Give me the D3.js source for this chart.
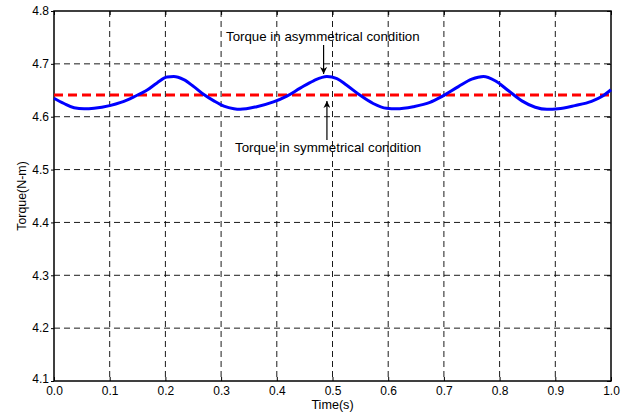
<!DOCTYPE html>
<html lang="en"><head>
<meta charset="utf-8">
<title>Torque</title>
<script src="https://cdn.jsdelivr.net/npm/d3@7"></script>
<style>
body { margin: 0; background: #fff; }
text { font-family: "Liberation Sans", Arial, sans-serif; }
</style>
</head>
<body>
<script type="text/javascript">

var width = 634;
var height = 416;

// values
var timeVals = [0.000, 0.018, 0.036, 0.054, 0.072, 0.100, 0.120, 0.144, 0.168, 0.185, 0.203, 0.215,
    0.233, 0.251, 0.269, 0.287, 0.305, 0.323, 0.334, 0.364, 0.394, 0.418, 0.442, 0.466, 0.490,
    0.508, 0.525, 0.549, 0.573, 0.597, 0.615, 0.645, 0.675, 0.696, 0.726, 0.750, 0.771, 0.792,
    0.816, 0.840, 0.864, 0.885, 0.905, 0.935, 0.965, 0.985, 1.000];
var torqueAsym = [4.635, 4.625, 4.617, 4.615, 4.616, 4.621, 4.627, 4.638, 4.651, 4.664, 4.675, 4.676,
    4.670, 4.657, 4.642, 4.630, 4.620, 4.615, 4.614, 4.619, 4.628, 4.639, 4.654, 4.668, 4.676,
    4.672, 4.660, 4.641, 4.625, 4.616, 4.615, 4.619, 4.627, 4.638, 4.657, 4.671, 4.676, 4.668,
    4.649, 4.630, 4.618, 4.614, 4.615, 4.621, 4.629, 4.639, 4.651];
var torqueSym = 4.641;
var xTicks = [0, 0.1, 0.2, 0.3, 0.4, 0.5, 0.6, 0.7, 0.8, 0.9, 1.0];
var yTicks = [4.1, 4.2, 4.3, 4.4, 4.5, 4.6, 4.7, 4.8];

var margin = {left: 54, top: 11, right: 23, bottom: 35};
var pw = width - margin.left - margin.right;
var ph = height - margin.top - margin.bottom;

var svg = d3.select("body").append("svg")
            .attr("width", width)
            .attr("height", height);

var x = d3.scaleLinear().domain([0, 1]).range([0, pw]);
var y = d3.scaleLinear().domain([4.1, 4.8]).range([ph, 0]);

var g = svg.append("g")
    .attr("transform", "translate(" + margin.left + "," + margin.top + ")");

// grid
g.selectAll(".vgrid")
    .data(xTicks.slice(1, -1))
    .enter().append("line")
    .attr("x1", d => x(d)).attr("x2", d => x(d))
    .attr("y1", 0).attr("y2", ph)
    .attr("stroke", "#000").attr("stroke-width", 0.9)
    .attr("stroke-dasharray", "6,4");
g.selectAll(".hgrid")
    .data(yTicks.slice(1, -1))
    .enter().append("line")
    .attr("x1", 0).attr("x2", pw)
    .attr("y1", d => y(d)).attr("y2", d => y(d))
    .attr("stroke", "#000").attr("stroke-width", 0.9)
    .attr("stroke-dasharray", "6,4");

// axes
var xAxis = g.append("g")
    .attr("transform", "translate(0," + ph + ")")
    .call(d3.axisBottom(x).tickValues(xTicks).tickFormat(d3.format(".1f")).tickSize(-4).tickPadding(5));
var yAxis = g.append("g")
    .call(d3.axisLeft(y).tickValues(yTicks).tickFormat(d3.format(".1f")).tickSize(3).tickPadding(2));
g.append("g")
    .call(d3.axisTop(x).tickValues(xTicks).tickFormat("").tickSize(-4));
g.append("g")
    .attr("transform", "translate(" + pw + ",0)")
    .call(d3.axisRight(y).tickValues(yTicks).tickFormat("").tickSize(-4));

g.selectAll(".domain").remove();
g.selectAll(".tick text")
    .attr("font-family", "Liberation Sans, Arial, sans-serif")
    .attr("font-size", 12)
    .attr("fill", "#000");
yAxis.selectAll(".tick text").filter(d => d === 4.1).attr("dy", "0.1em");

// box
g.append("rect")
    .attr("x", 0).attr("y", 0)
    .attr("width", pw).attr("height", ph)
    .attr("fill", "none")
    .attr("stroke", "#000").attr("stroke-width", 1.5);

// symmetrical torque
g.append("line")
    .attr("x1", x(0)).attr("x2", x(1))
    .attr("y1", y(torqueSym)).attr("y2", y(torqueSym))
    .attr("stroke", "#ff0000").attr("stroke-width", 3)
    .attr("stroke-dasharray", "9,5");

// asymmetrical torque
var line = d3.line()
    .x((d, i) => x(timeVals[i]))
    .y(d => y(d))
    .curve(d3.curveMonotoneX);
g.append("path")
    .datum(torqueAsym)
    .attr("d", line)
    .attr("fill", "none")
    .attr("stroke", "#0000ff")
    .attr("stroke-width", 3);

// annotations
svg.append("defs").append("marker")
    .attr("id", "arr")
    .attr("viewBox", "0 0 10 10")
    .attr("refX", 10).attr("refY", 5)
    .attr("markerWidth", 7).attr("markerHeight", 7)
    .attr("markerUnits", "userSpaceOnUse")
    .attr("orient", "auto")
    .append("path")
    .attr("d", "M0,0 L10,5 L0,10 L3,5 z")
    .attr("fill", "#000");

g.append("text")
    .attr("x", 172).attr("y", 30)
    .attr("font-size", 13.3)
    .text("Torque in asymmetrical condition");
g.append("line")
    .attr("x1", x(0.484)).attr("x2", x(0.484))
    .attr("y1", 34).attr("y2", y(4.677) - 2)
    .attr("stroke", "#000").attr("stroke-width", 1.2)
    .attr("marker-end", "url(#arr)");

g.append("text")
    .attr("x", 181).attr("y", 141)
    .attr("font-size", 13.3)
    .text("Torque in symmetrical condition");
g.append("line")
    .attr("x1", x(0.49)).attr("x2", x(0.49))
    .attr("y1", 129).attr("y2", y(torqueSym) + 6)
    .attr("stroke", "#000").attr("stroke-width", 1.2)
    .attr("marker-end", "url(#arr)");

// axis labels
svg.append("text")
    .attr("x", margin.left + pw / 2).attr("y", 409)
    .attr("text-anchor", "middle")
    .attr("font-size", 12.6)
    .text("Time(s)");
svg.append("text")
    .attr("transform", "translate(26," + (margin.top + ph / 2) + ") rotate(-90)")
    .attr("text-anchor", "middle")
    .attr("font-size", 12.4)
    .text("Torque(N-m)");

</script>
</body></html>
